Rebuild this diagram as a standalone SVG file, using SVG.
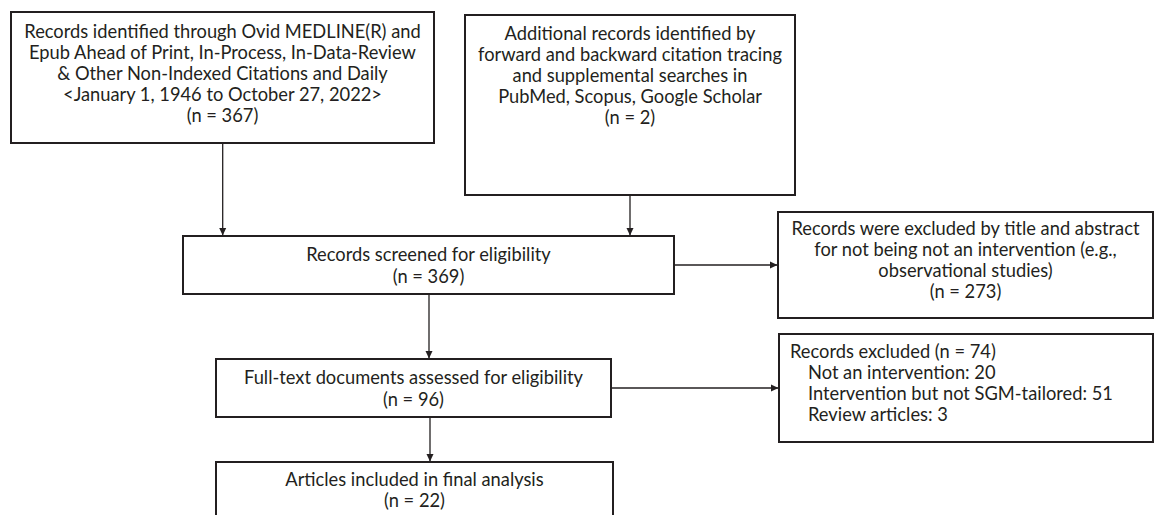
<svg xmlns="http://www.w3.org/2000/svg" width="1154" height="515" viewBox="0 0 1154 515">
<defs>
<marker id="ah" markerWidth="8" markerHeight="8" refX="7" refY="4" orient="auto" markerUnits="userSpaceOnUse">
<path d="M0,0.5 L7.5,4 L0,7.5 Z" fill="#231f20"/>
</marker>
<style>
.box{fill:#fff;stroke:#231f20;stroke-width:2}
.t{font-family:Lato,"Liberation Sans",sans-serif;font-size:18.3px;fill:#231f20;text-anchor:middle}
.l{text-anchor:start}
.c{fill:none;stroke:#231f20;stroke-width:1.3;marker-end:url(#ah)}
</style>
</defs>
<rect width="1154" height="515" fill="#fff"/>
<g id="connectors">
<line class="c" x1="222.7" y1="143" x2="222.7" y2="235"/>
<line class="c" x1="630" y1="195" x2="630" y2="235"/>
<line class="c" x1="674" y1="265" x2="777" y2="265"/>
<line class="c" x1="429" y1="294" x2="429" y2="358"/>
<line class="c" x1="611" y1="388" x2="778" y2="388"/>
<line class="c" x1="430" y1="417" x2="430" y2="461"/>
</g>
<g id="n1">
<rect class="box" x="11" y="12" width="423" height="131"/>
<text class="t" x="222.5" y="38">Records identified through Ovid MEDLINE(R) and</text>
<text class="t" x="222.5" y="59">Epub Ahead of Print, In-Process, In-Data-Review</text>
<text class="t" x="222.5" y="80">&amp; Other Non-Indexed Citations and Daily</text>
<text class="t" x="222.5" y="101">&lt;January 1, 1946 to October 27, 2022&gt;</text>
<text class="t" x="222.5" y="122">(n = 367)</text>
</g>
<g id="n2">
<rect class="box" x="465" y="15" width="330" height="180"/>
<text class="t" x="630" y="40">Additional records identified by</text>
<text class="t" x="630" y="61">forward and backward citation tracing</text>
<text class="t" x="630" y="82">and supplemental searches in</text>
<text class="t" x="630" y="103">PubMed, Scopus, Google Scholar</text>
<text class="t" x="630" y="124">(n = 2)</text>
</g>
<g id="n3">
<rect class="box" x="183" y="236" width="491" height="58"/>
<text class="t" x="428.5" y="261">Records screened for eligibility</text>
<text class="t" x="428.5" y="283">(n = 369)</text>
</g>
<g id="n4">
<rect class="box" x="778" y="212" width="375" height="106"/>
<text class="t" x="965.5" y="235">Records were excluded by title and abstract</text>
<text class="t" x="965.5" y="256">for not being not an intervention (e.g.,</text>
<text class="t" x="965.5" y="277">observational studies)</text>
<text class="t" x="965.5" y="298">(n = 273)</text>
</g>
<g id="n5">
<rect class="box" x="779" y="334" width="374" height="108"/>
<text class="t l" x="790" y="358">Records excluded (n = 74)</text>
<text class="t l" x="808" y="379">Not an intervention: 20</text>
<text class="t l" x="808" y="400">Intervention but not SGM-tailored: 51</text>
<text class="t l" x="808" y="421">Review articles: 3</text>
</g>
<g id="n6">
<rect class="box" x="216" y="359" width="395" height="58"/>
<text class="t" x="413.5" y="384">Full-text documents assessed for eligibility</text>
<text class="t" x="413.5" y="406">(n = 96)</text>
</g>
<g id="n7">
<rect class="box" x="216" y="462" width="397" height="60"/>
<text class="t" x="414.5" y="486">Articles included in final analysis</text>
<text class="t" x="414.5" y="507">(n = 22)</text>
</g>
</svg>
